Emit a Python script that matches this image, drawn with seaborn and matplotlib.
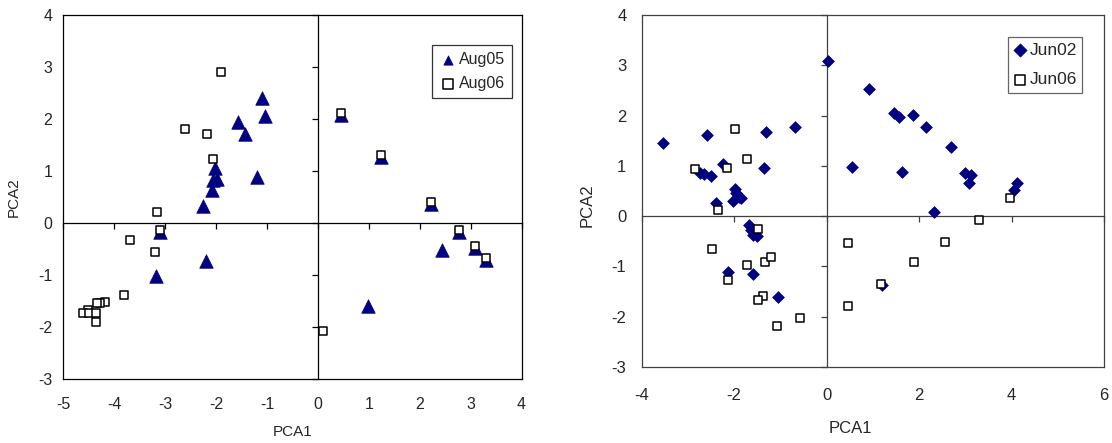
import matplotlib
matplotlib.use("Agg")
import matplotlib.pyplot as plt
import seaborn as sns
import pandas as pd

# August campaign scores
aug05_x = [-1.09, -1.03, -1.56, -1.44, -1.19, -2.02, -1.99, -2.05, -2.08, -2.26,
           -3.10, -2.20, -3.18, 0.45, 1.24, 2.22, 2.78, 3.09, 3.30, 2.43, 0.98]
aug05_y = [2.41, 2.06, 1.95, 1.72, 0.88, 1.06, 0.85, 0.83, 0.63, 0.33,
           -0.17, -0.73, -1.02, 2.07, 1.27, 0.37, -0.17, -0.49, -0.72, -0.51, -1.60]
aug06_x = [-1.90, -2.60, -2.18, -2.05, -3.15, -3.11, -3.68, -3.20, -3.81, -4.19,
           -4.28, -4.33, -4.51, -4.62, -4.49, -4.36, -4.36,
           0.45, 1.24, 2.22, 2.78, 3.09, 3.30, 0.11]
aug06_y = [2.90, 1.81, 1.72, 1.24, 0.21, -0.13, -0.33, -0.56, -1.39, -1.51,
           -1.53, -1.54, -1.67, -1.74, -1.74, -1.74, -1.90,
           2.12, 1.31, 0.41, -0.13, -0.45, -0.68, -2.08]

# June campaign scores
jun02_x = [-3.53, -2.58, -2.74, -2.65, -2.50, -2.24, -1.32, -0.68, -1.35, 0.03,
           -2.39, -1.98, -1.95, -1.89, -2.02, -1.85,
           0.91, 1.46, 1.57, 1.86, 2.14, 2.69, 0.54, 1.64, 3.00, 3.13, 3.08,
           4.11, 4.06, 2.33,
           -1.69, -1.64, -1.59, -1.50, -2.14, -1.60, -1.05, 1.19]
jun02_y = [1.45, 1.61, 0.86, 0.84, 0.80, 1.03, 1.68, 1.78, 0.95, 3.09,
           0.26, 0.53, 0.45, 0.38, 0.29, 0.36,
           2.52, 2.06, 1.98, 2.01, 1.78, 1.38, 0.98, 0.88, 0.86, 0.82, 0.66,
           0.65, 0.52, 0.08,
           -0.18, -0.28, -0.38, -0.40, -1.11, -1.16, -1.61, -1.37]
jun06_x = [-1.98, -1.73, -2.85, -2.16, -2.34, -1.48, -2.48, -1.73, -1.33, -1.21,
           -2.13, -1.37, -1.48, -1.07, -0.57,
           3.97, 3.29, 0.46, 2.56, 1.88, 1.18, 0.46]
jun06_y = [1.73, 1.13, 0.93, 0.96, 0.13, -0.25, -0.65, -0.98, -0.91, -0.82,
           -1.27, -1.59, -1.67, -2.19, -2.02,
           0.36, -0.08, -0.54, -0.51, -0.92, -1.35, -1.79]

x_label = "PCA1"
y_label = "PCA2"

sns.set_theme(style="white")
plt.rcParams["font.family"] = ["Liberation Sans", "DejaVu Sans"]
plt.rcParams["axes.unicode_minus"] = False

NAVY = "#000080"

fig = plt.figure(figsize=(11.12, 4.43), dpi=100)
ax1 = fig.add_axes([0.0569, 0.1445, 0.4121, 0.8216])
ax2 = fig.add_axes([0.5771, 0.172, 0.4157, 0.794])


def frame(ax, xlim, ylim, xticks, yticks, color, fs, xpad, ypad):
    ax.set_xlim(*xlim)
    ax.set_ylim(*ylim)
    # Axis lines crossing at the origin carry the tick marks
    for side in ("left", "bottom"):
        ax.spines[side].set_position(("data", 0))
        ax.spines[side].set_color(color)
        ax.spines[side].set_linewidth(0.9)
    for side in ("top", "right"):
        ax.spines[side].set_color(color)
        ax.spines[side].set_linewidth(0.9)
    ax.set_xticks(xticks)
    ax.set_yticks(yticks)
    ax.tick_params(axis="both", direction="out", length=4, width=0.9,
                   color=color, labelbottom=False, labelleft=False,
                   bottom=True, left=True)
    ax.set_xlabel("")
    ax.set_ylabel("")
    # Outer frame edges carry the tick labels
    sx = ax.secondary_xaxis("bottom")
    sx.set_xticks(xticks)
    sx.tick_params(length=0, pad=xpad, labelsize=fs)
    sx.spines["bottom"].set_color(color)
    sx.spines["bottom"].set_linewidth(0.9)
    sy = ax.secondary_yaxis("left")
    sy.set_yticks(yticks)
    sy.tick_params(length=0, pad=ypad, labelsize=fs)
    sy.spines["left"].set_color(color)
    sy.spines["left"].set_linewidth(0.9)
    return sx, sy


# Left panel: August
df_aug = pd.concat([
    pd.DataFrame({"x": aug05_x, "y": aug05_y, "set": "Aug05"}),
    pd.DataFrame({"x": aug06_x, "y": aug06_y, "set": "Aug06"}),
], ignore_index=True)

sns.scatterplot(data=df_aug[df_aug["set"] == "Aug05"], x="x", y="y", ax=ax1,
                marker="^", s=95, color=NAVY, edgecolor=NAVY, linewidth=0.5,
                label="Aug05", zorder=3)
sns.scatterplot(data=df_aug[df_aug["set"] == "Aug06"], x="x", y="y", ax=ax1,
                marker="s", s=32, color="white", edgecolor="black", linewidth=1.1,
                label="Aug06", zorder=4)
sx1, sy1 = frame(ax1, (-5, 4), (-3, 4), range(-5, 5), range(-3, 5), "black",
                 11.5, 13, 8)
sx1.set_xlabel(x_label, fontsize=11, labelpad=9)
sy1.set_ylabel(y_label, fontsize=11, labelpad=12)
leg1 = ax1.legend(loc="upper left", bbox_to_anchor=(0.805, 0.918), frameon=True,
                  fancybox=False, edgecolor="black", fontsize=11.5,
                  handletextpad=0.1, borderpad=0.45, labelspacing=0.55,
                  handlelength=1.1, borderaxespad=0)
leg1.get_frame().set_linewidth(0.9)
for h in leg1.legend_handles:
    h.set_sizes([45])

# Right panel: June
df_jun = pd.concat([
    pd.DataFrame({"x": jun02_x, "y": jun02_y, "set": "Jun02"}),
    pd.DataFrame({"x": jun06_x, "y": jun06_y, "set": "Jun06"}),
], ignore_index=True)

sns.scatterplot(data=df_jun[df_jun["set"] == "Jun02"], x="x", y="y", ax=ax2,
                marker="D", s=36, color=NAVY, edgecolor=NAVY, linewidth=0.5,
                label="Jun02", zorder=3)
sns.scatterplot(data=df_jun[df_jun["set"] == "Jun06"], x="x", y="y", ax=ax2,
                marker="s", s=38, color="white", edgecolor="black", linewidth=1.1,
                label="Jun06", zorder=4)
sx2, sy2 = frame(ax2, (-4, 6), (-3, 4), range(-4, 7, 2), range(-3, 5), "#404040",
                 12, 15, 11)
sx2.set_xlabel(x_label, fontsize=12, labelpad=13)
sx2.xaxis.label.set_x(0.452)
sy2.set_ylabel(y_label, fontsize=12, labelpad=12)
sy2.yaxis.label.set_y(0.46)
leg2 = ax2.legend(loc="upper left", bbox_to_anchor=(0.792, 0.937), frameon=True,
                  fancybox=False, edgecolor="#404040", fontsize=12.5,
                  handletextpad=0.15, borderpad=0.3, labelspacing=0.85,
                  handlelength=0.8, borderaxespad=0)
leg2.get_frame().set_linewidth(0.9)
for h in leg2.legend_handles:
    h.set_sizes([45])

fig.savefig("out.png", dpi=100)
